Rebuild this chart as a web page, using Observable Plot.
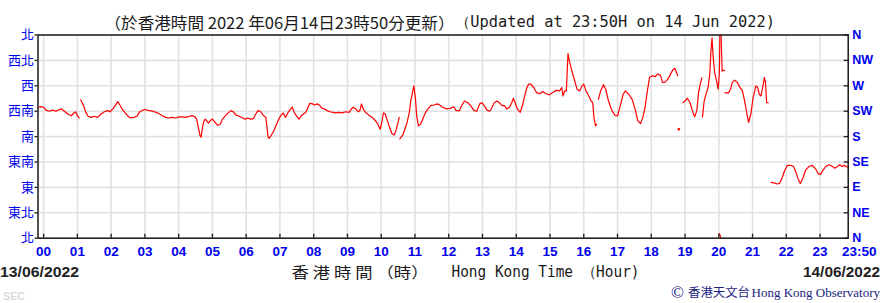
<!DOCTYPE html>
<html lang="zh-Hant">
<head>
<meta charset="utf-8">
<title>風向 Wind Direction</title>
<script src="https://cdn.jsdelivr.net/npm/d3@7"></script>
<script src="https://cdn.jsdelivr.net/npm/@observablehq/plot@0.6"></script>
<style>
html,body{margin:0;padding:0;background:#fff;}
#wrap{position:relative;width:884px;height:303px;overflow:hidden;}
#chart{position:absolute;left:0;top:0;}
#texts{position:absolute;left:0;top:0;pointer-events:none;}
</style>
</head>
<body>
<div id="wrap">
  <div id="chart"></div>
  <svg id="texts" width="884" height="303" xmlns="http://www.w3.org/2000/svg">
    <text x="104.5" y="29" textLength="350" lengthAdjust="spacingAndGlyphs" font-family="'Noto Sans CJK TC', sans-serif" font-size="16" fill="#1a1a1a">（於香港時間 2022 年06月14日23時50分更新）</text>
    <text x="455" y="26.7" textLength="320" lengthAdjust="spacingAndGlyphs" font-family="'DejaVu Sans Mono', monospace" font-size="15" fill="#1a1a1a">（Updated at 23:50H on 14 Jun 2022)</text>
    <text x="0" y="276.7" textLength="79" lengthAdjust="spacingAndGlyphs" font-family="'Liberation Sans', Arial, sans-serif" font-weight="bold" font-size="15.5" fill="#222">13/06/2022</text>
    <text x="803" y="276.7" textLength="77" lengthAdjust="spacingAndGlyphs" font-family="'Liberation Sans', Arial, sans-serif" font-weight="bold" font-size="15.5" fill="#222">14/06/2022</text>
    <text x="291.5" y="278" textLength="137" lengthAdjust="spacingAndGlyphs" font-family="'Noto Sans CJK TC', sans-serif" font-size="15" fill="#1a1a1a">香 港 時 間 （時）</text>
    <text x="451.5" y="277.3" textLength="188" lengthAdjust="spacingAndGlyphs" font-family="'DejaVu Sans Mono', monospace" font-size="15" fill="#1a1a1a">Hong Kong Time （Hour)</text>
    <text x="3" y="300" textLength="22" lengthAdjust="spacingAndGlyphs" font-family="'Liberation Sans', Arial, sans-serif" font-weight="bold" font-size="11" fill="#dadada">SEC</text>
    <text x="671" y="297.5" font-family="'Liberation Serif', serif" font-size="17" fill="#1a2380">©</text>
    <text x="688" y="297" textLength="62" lengthAdjust="spacingAndGlyphs" font-family="'Noto Sans CJK TC', sans-serif" font-size="12" fill="#1a2380">香港天文台</text>
    <text x="751.5" y="296.7" textLength="128.5" lengthAdjust="spacingAndGlyphs" font-family="'Liberation Serif', serif" font-size="12.5" fill="#1a2380">Hong Kong Observatory</text>
  </svg>
</div>
<script>
// Wind direction readings, [minutes after 00:00 on 14/06/2022, degrees]
// Each array is one unbroken stretch of the recorded line.
const segA = [[-10,232],[-5,233],[0,232],[4,227],[10,225],[16,227],[22,225],[28,228],[32,229],[37,225],[43,220],[49,217],[53,221],[57,224],[60,217],[63,213]];
const segB = [[66,245],[71,235],[75,223],[79,216],[84,214],[90,216],[96,214],[102,220],[108,224],[114,226],[118,224],[123,229],[127,235],[132,242],[136,235],[140,228],[145,222],[149,217],[154,213],[160,214],[166,216],[170,223],[174,226],[180,228],[188,226],[194,225],[200,223],[206,220],[211,217],[217,214],[223,213],[229,214],[235,213],[241,215],[247,215],[253,214],[259,216],[265,217],[269,215],[272,211],[275,196],[278,182],[280,179],[281,187],[284,205],[287,211],[290,208],[293,204],[296,208],[300,211],[304,206],[309,200],[314,202],[318,211],[324,218],[328,222],[333,226],[338,223],[342,218],[348,216],[354,213],[358,211],[363,213],[368,211],[373,212],[377,220],[381,226],[386,224],[390,218],[395,214],[396,205],[399,179],[401,177],[405,183],[409,190],[414,202],[418,211],[422,218],[426,222],[430,214],[434,222],[439,229],[442,232],[445,224],[449,217],[454,211],[458,217],[462,220],[466,223],[470,232],[473,239],[478,238],[482,236],[486,238],[491,235],[495,230],[499,229],[504,226],[509,224],[514,223],[519,222],[525,223],[531,222],[537,224],[543,223],[547,229],[550,232],[555,229],[559,224],[562,226],[565,238],[568,229],[572,223],[578,218],[584,214],[590,208],[594,202],[598,193],[601,205],[604,222],[607,220],[611,208],[615,196],[619,185],[623,183],[626,190],[630,205],[632,214]];
const segC = [[633,176],[638,182],[642,193],[646,205],[650,223],[652,240],[655,255],[658,270],[661,246],[663,217],[666,199],[670,202],[675,214],[679,223],[683,229],[688,235],[694,236],[700,238],[704,236],[709,232],[714,230],[717,229],[723,230],[729,233],[733,226],[739,226],[743,235],[748,243],[754,240],[759,235],[765,226],[770,225],[775,238],[779,240],[783,235],[788,227],[793,225],[797,232],[801,240],[806,243],[810,240],[815,235],[819,235],[823,229],[828,232],[832,240],[835,248],[838,240],[842,229],[847,223],[851,235],[855,252],[859,267],[862,273],[866,273],[871,267],[876,258],[882,256],[887,260],[893,256],[899,254],[905,258],[911,262],[917,261],[921,267],[923,252],[926,261],[929,261],[932,327],[935,311],[939,296],[943,282],[948,264],[953,261],[957,270],[960,273],[964,261],[969,252],[973,243],[976,240],[978,214],[981,199],[983,202]];
const segD = [[986,246],[990,261],[995,272],[999,264],[1004,243],[1010,226],[1016,217],[1020,217],[1025,235],[1030,255],[1034,261],[1040,255],[1046,246],[1052,226],[1056,208],[1061,203],[1065,214],[1069,232],[1073,261],[1077,285],[1082,288],[1087,286],[1091,291],[1096,289],[1100,276],[1104,276],[1108,280],[1113,288],[1118,298],[1122,301],[1125,293],[1127,288]];
const segE = [[1136,240],[1140,243],[1144,248],[1149,240],[1153,226],[1157,215],[1161,226],[1164,258],[1167,273],[1170,284]];
const segF = [[1171,215],[1174,243],[1178,258],[1181,267],[1184,291],[1186,332],[1188,355],[1190,320],[1193,291],[1196,279],[1199,264],[1201,293],[1202,360]];
const segG = [[1201,8],[1204,0]];
const segH = [[1204,360],[1206,296],[1209,298],[1210,297]];
const segI = [[1211,258],[1217,257],[1221,264],[1224,276],[1228,280],[1233,276],[1237,268],[1242,261],[1246,243],[1250,220],[1253,205],[1257,220],[1261,249],[1266,270],[1269,267],[1272,255],[1275,252],[1278,267],[1281,285],[1283,276],[1285,240],[1288,240]];
const segJ = [[1293,99],[1298,98],[1304,96],[1308,97],[1313,108],[1317,120],[1322,129],[1328,129],[1333,127],[1337,117],[1341,105],[1345,97],[1350,108],[1354,120],[1360,127],[1366,129],[1372,123],[1377,114],[1381,113],[1385,120],[1390,127],[1396,130],[1402,127],[1406,124],[1411,127],[1415,130],[1419,127],[1423,129],[1428,126],[1430,124]];
const loneReading = [[1129,193]];

// Axes
const timeDomain = [-10, 1430];
const hourTicks = [0,60,120,180,240,300,360,420,480,540,600,660,720,780,840,900,960,1020,1080,1140,1200,1260,1320,1380];
const hourLabels = ["00","01","02","03","04","05","06","07","08","09","10","11","12","13","14","15","16","17","18","19","20","21","22","23"];
const endTicks = [1430];
const endLabels = ["23:50"];
const dirTicks = [0,45,90,135,180,225,270,315,360];
const dirLabelsZh = ["北","東北","東","東南","南","西南","西","西北","北"];
const dirLabelsEn = ["N","NE","E","SE","S","SW","W","NW","N"];

const segments = [segA, segB, segC, segD, segE, segF, segG, segH, segI, segJ];
const series = segments.flatMap((s, i) => s.map(([t, d]) => ({seg: i, t, d})));
const dots = loneReading.map(([t, d]) => ({t, d}));

const blue = "#0000ee";
const axisColor = "#1a1a1a";
const sans = "'Liberation Sans', Arial, sans-serif";

const chart = Plot.plot({
  width: 884,
  height: 303,
  marginTop: 34.5,
  marginRight: 36.3,
  marginBottom: 65.3,
  marginLeft: 37.5,
  style: {background: "transparent", fontFamily: sans, overflow: "visible"},
  x: {domain: timeDomain, label: null},
  y: {domain: [0, 360], label: null},
  marks: [
    Plot.gridX({ticks: hourTicks, stroke: "#e2e2e2", strokeOpacity: 1, strokeWidth: 1.6}),
    Plot.gridY({ticks: dirTicks, stroke: "#e2e2e2", strokeOpacity: 1, strokeWidth: 1.6}),
    Plot.line(series, {x: "t", y: "d", z: "seg", stroke: "#ff0000", strokeWidth: 1.2, clip: true}),
    Plot.dot(dots, {x: "t", y: "d", r: 1.3, fill: "#ff0000", stroke: null}),
    Plot.frame({stroke: axisColor, strokeWidth: 1.5}),
    // bottom axis: inward ticks, then labels
    Plot.axisX({ticks: hourTicks, tickSize: -4, fill: "none", stroke: axisColor, strokeWidth: 1.3, label: null}),
    Plot.axisX({ticks: hourTicks, tickSize: 0, tickPadding: 8, tickFormat: d => hourLabels[hourTicks.indexOf(d)],
      fill: blue, fontSize: 13.5, fontWeight: "bold", fontFamily: sans, label: null}),
    Plot.text(endTicks, {x: d => d, text: (d, i) => endLabels[i], frameAnchor: "bottom", lineAnchor: "top",
      dy: 8, dx: 11, fill: blue, fontSize: 13.5, fontWeight: "bold", fontFamily: sans}),
    // left axis (Chinese)
    Plot.axisY({ticks: dirTicks, anchor: "left", tickSize: 3, tickPadding: 1, stroke: axisColor, strokeWidth: 1.3,
      tickFormat: d => dirLabelsZh[dirTicks.indexOf(d)], fill: blue, fontSize: 13,
      fontFamily: "'Noto Sans CJK TC', sans-serif", label: null}),
    // right axis (English): inward ticks, then labels
    Plot.axisY({ticks: dirTicks, anchor: "right", tickSize: -5, fill: "none", stroke: axisColor, strokeWidth: 1.3, label: null}),
    Plot.axisY({ticks: dirTicks, anchor: "right", tickSize: 0, tickPadding: 4,
      tickFormat: d => dirLabelsEn[dirTicks.indexOf(d)], fill: blue, fontSize: 12.5, fontWeight: "bold",
      fontFamily: sans, label: null})
  ]
});
document.getElementById("chart").appendChild(chart);
</script>
</body>
</html>
